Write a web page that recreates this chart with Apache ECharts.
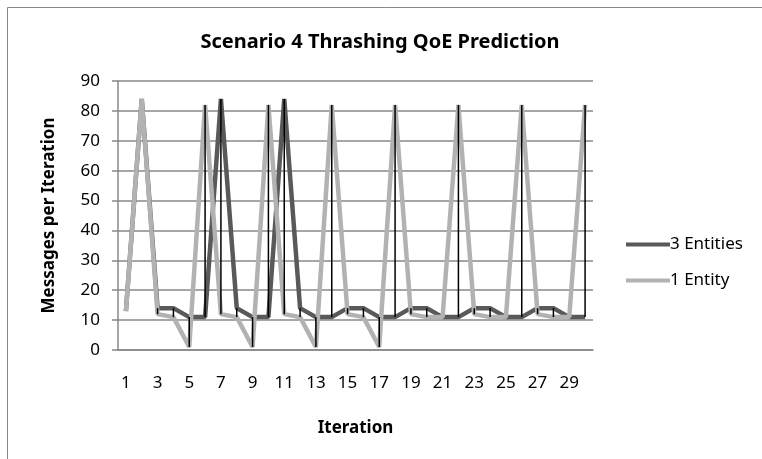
<!DOCTYPE html>
<html>
<head>
<meta charset="utf-8">
<script src="https://cdn.jsdelivr.net/npm/echarts@6/dist/echarts.min.js"></script>
<style>
html, body { margin: 0; padding: 0; background: #fff; }
#chart { width: 762px; height: 459px; }
</style>
</head>
<body>
<div id="chart"></div>
<script>
// iterations 1..30
let iterations = [];
for (let i = 1; i <= 30; i++) iterations.push(String(i));

let threeEntities = [13, 84, 14, 14, 11, 11, 84, 14, 11, 11,
                     84, 14, 11, 11, 14, 14, 11, 11, 14, 14,
                     11, 11, 14, 14, 11, 11, 14, 14, 11, 11];
let oneEntity = [13, 84, 12, 11, 1, 82, 12, 11, 1, 82,
                 12, 11, 1, 82, 12, 11, 1, 82, 12, 11,
                 11, 82, 12, 11, 11, 82, 12, 11, 11, 82];
let yTicks = [0, 10, 20, 30, 40, 50, 60, 70, 80, 90];

// high-low lines (between the two series at each iteration)
let hiLo = iterations.map(function (c, i) {
  return [i, Math.min(threeEntities[i], oneEntity[i]), Math.max(threeEntities[i], oneEntity[i])];
});

let font = '"Noto Sans", "Open Sans", sans-serif';
let myChart = echarts.init(document.getElementById('chart'));
let option = {
  animation: false,
  backgroundColor: '#fff',
  textStyle: { fontFamily: font },
  title: {
    text: 'Scenario 4 Thrashing QoE Prediction',
    left: 375, top: 27, textAlign: 'center',
    textStyle: { fontFamily: font, fontSize: 20, fontWeight: 'bold', color: '#000' }
  },
  graphic: [{
    type: 'rect', shape: { x: 7.5, y: 7.5, width: 800, height: 500 },
    style: { fill: null, stroke: '#888', lineWidth: 1 }, silent: true
  }],
  legend: {
    orient: 'vertical', left: 621, top: 231, itemGap: 19,
    itemWidth: 44, itemHeight: 4, icon: 'rect',
    textStyle: { fontFamily: font, fontSize: 17, color: '#000', padding: [0, 0, 0, -5] },
    data: ['3 Entities', '1 Entity']
  },
  grid: { left: 118, right: 169, top: 81, bottom: 109 },
  xAxis: {
    type: 'category', data: iterations, boundaryGap: true,
    name: 'Iteration', nameLocation: 'middle', nameGap: 70,
    nameTextStyle: { fontFamily: font, fontSize: 17, fontWeight: 'bold', color: '#000' },
    axisLine: { lineStyle: { color: '#888', width: 1.5 } },
    axisTick: { show: false },
    axisLabel: { interval: 1, margin: 25, fontFamily: font, fontSize: 17, color: '#000' }
  },
  yAxis: {
    type: 'value', min: 0, max: 90, interval: 10,
    name: 'Messages per Iteration', nameLocation: 'middle', nameGap: 60,
    nameTextStyle: { fontFamily: font, fontSize: 17, fontWeight: 'bold', color: '#000' },
    axisLine: { show: true, lineStyle: { color: '#888', width: 1.5 } },
    axisTick: { show: true, length: 6, lineStyle: { color: '#888', width: 1.5 } },
    splitLine: { lineStyle: { color: '#888', width: 1.5 } },
    axisLabel: {
      margin: 18, fontFamily: font, fontSize: 17, color: '#000',
      formatter: function (v) { return yTicks.indexOf(v) >= 0 ? String(v) : ''; }
    }
  },
  series: [
    {
      name: '3 Entities', type: 'line', data: threeEntities,
      showSymbol: false, symbol: 'none',
      lineStyle: { color: '#595959', width: 4.5 }, itemStyle: { color: '#595959' }, z: 2
    },
    {
      name: '1 Entity', type: 'line', data: oneEntity,
      showSymbol: false, symbol: 'none',
      lineStyle: { color: '#b2b2b2', width: 4.5 }, itemStyle: { color: '#b2b2b2' }, z: 3
    },
    {
      name: 'hilo', type: 'custom', data: hiLo, z: 4,
      encode: { x: 0, y: [1, 2] },
      renderItem: function (params, api) {
        let p1 = api.coord([api.value(0), api.value(1)]);
        let p2 = api.coord([api.value(0), api.value(2)]);
        return {
          type: 'line',
          shape: { x1: p1[0], y1: p1[1], x2: p2[0], y2: p2[1] },
          style: { stroke: '#000', lineWidth: 1.5 }
        };
      }
    }
  ]
};
myChart.setOption(option);
</script>
</body>
</html>
